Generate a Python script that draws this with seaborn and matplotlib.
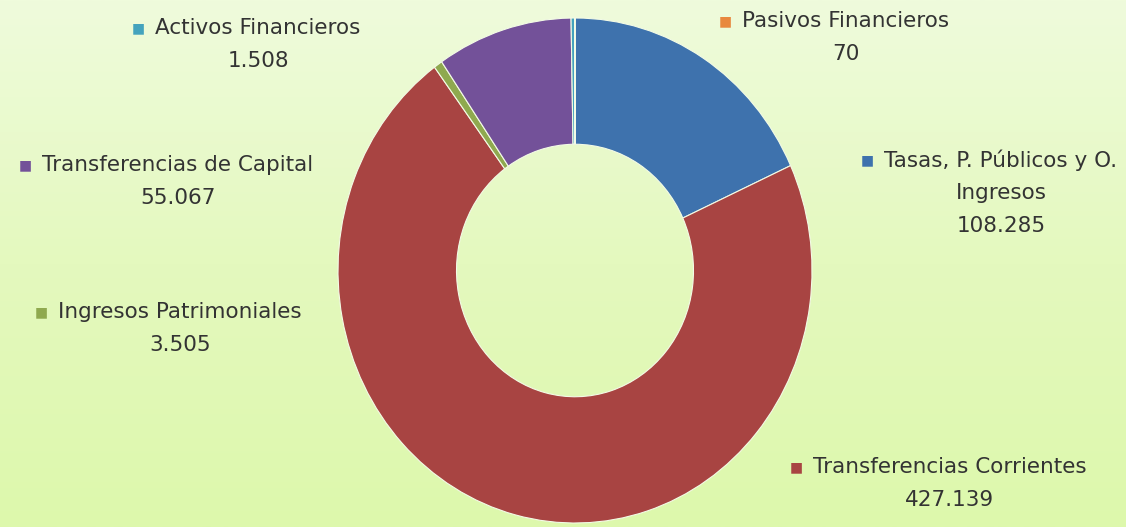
import numpy as np
import seaborn as sns
import matplotlib.pyplot as plt
import matplotlib.colors as mcolors

# data
categories = ["Tasas, P. Públicos y O.\nIngresos", "Transferencias Corrientes",
              "Ingresos Patrimoniales", "Transferencias de Capital",
              "Activos Financieros", "Pasivos Financieros"]
values = [108285, 427139, 3505, 55067, 1508, 70]
value_labels = ["108.285", "427.139", "3.505", "55.067", "1.508", "70"]
colors = ["#3E72AD", "#A84442", "#8FA94F", "#735199", "#44A3BD", "#E8883E"]

# label block centres in pixels (x, y of first line)
label_pos = [(1001, 160), (950, 467), (180, 312), (178, 165), (258, 28), (846, 21)]

sns.set_style("white")
plt.rcParams['font.family'] = ['DejaVu Sans']

W, H = 1126, 527
fig = plt.figure(figsize=(W / 100, H / 100), dpi=100)

# background gradient
bg = fig.add_axes([0, 0, 1, 1])
cmap = mcolors.LinearSegmentedColormap.from_list("bg", ["#EFFBDC", "#E4F9BE", "#DDF8AC"])
grad = np.linspace(0, 1, 256).reshape(-1, 1)
bg.imshow(grad, aspect="auto", cmap=cmap, extent=[0, 1, 0, 1], origin="upper")
bg.set_axis_off()

# donut
left, right, top, bottom = 338, 812, 18, 523
ax = fig.add_axes([left / W, 1 - bottom / H, (right - left) / W, (bottom - top) / H])
ax.pie(values, colors=colors, startangle=90, counterclock=False,
       wedgeprops=dict(width=0.5, edgecolor="#F3FBE6", linewidth=0.8))
ax.set_xlim(-1, 1)
ax.set_ylim(-1, 1)
ax.set_aspect("auto")
ax.set_axis_off()

txt_color = "#333333"
fs = 15.5
first_lines = []
for cat, val, (cx, cy), c in zip(categories, value_labels, label_pos, colors):
    lines = cat.split("\n") + [val]
    objs = []
    for i, line in enumerate(lines):
        t = fig.text(cx / W, 1 - (cy + i * 33) / H, line, ha="center", va="center",
                     fontsize=fs, color=txt_color)
        objs.append(t)
    first_lines.append((objs[0], c))

fig.canvas.draw()
renderer = fig.canvas.get_renderer()
for t, c in first_lines:
    bb = t.get_window_extent(renderer)
    fig.text((bb.x0 - 17) / W, (bb.y0 + bb.y1) / 2 / H, "■", ha="center", va="center",
             fontsize=10, color=c)

fig.savefig("out.png", dpi=100)
